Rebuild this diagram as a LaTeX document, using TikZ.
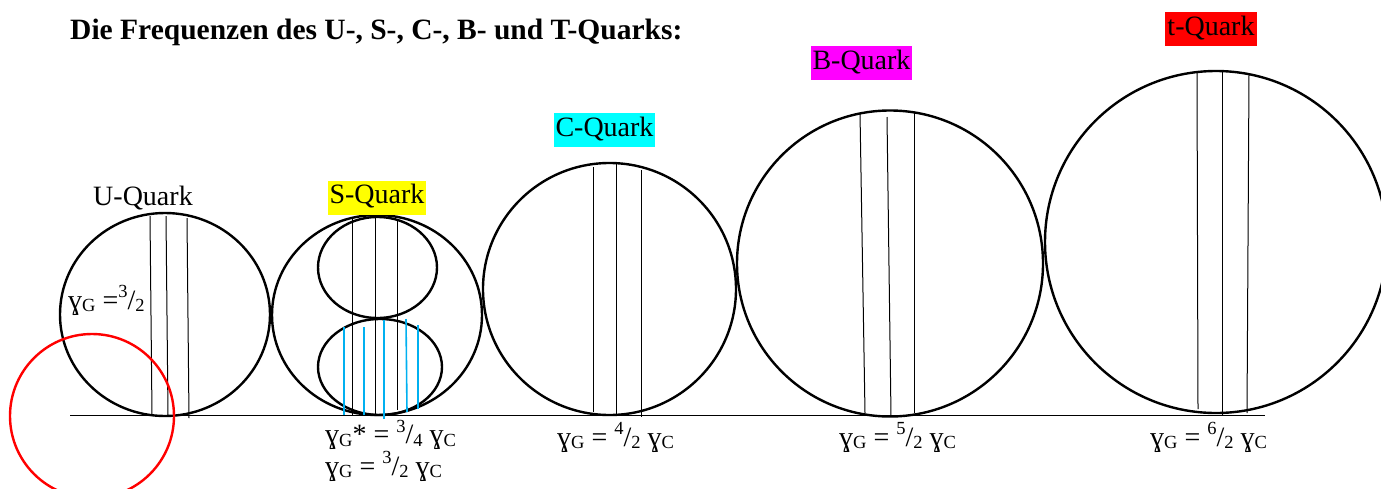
\documentclass[tikz,border=0pt]{standalone}
\usepackage{fontspec}
\setmainfont{Liberation Serif}
\newcommand\sbs[1]{\raisebox{-0.1em}{\fontsize{18.5}{18.5}\selectfont #1}}
\newcommand\sps[1]{\raisebox{0.42em}{\fontsize{18.5}{18.5}\selectfont #1}}
\newcommand\gmG{ɣ\sbs{G}}
\newcommand\gmC{ɣ\sbs{C}}
\tikzset{
  ring/.style={draw=black, line width=2.4pt},
  thin/.style={draw=black, line width=1pt},
  blueline/.style={draw=lineblue, line width=1.6pt},
  qlabel/.style={inner xsep=2pt, inner ysep=0pt, text height=21pt, text depth=9pt, minimum height=34pt, font=\fontsize{28}{30}\selectfont},
  formula/.style={inner sep=0pt, anchor=base west, font=\fontsize{28}{29}\selectfont},
}
\definecolor{lineblue}{RGB}{0,176,240}
\definecolor{qyellow}{RGB}{255,255,0}
\definecolor{qcyan}{RGB}{0,255,255}
\definecolor{qmagenta}{RGB}{255,0,255}
\definecolor{qred}{RGB}{255,0,0}
\begin{document}
\begin{tikzpicture}[x=1pt,y=-1pt]
\useasboundingbox (0,0) rectangle (1381,488);
\begin{scope}
\clip (0,0) rectangle (1381,488);
% title
\node[inner sep=0pt, anchor=base west, font=\fontsize{29.5}{31}\selectfont\bfseries] (title) at (70,39) {Die Frequenzen des U-, S-, C-, B- und T-Quarks:};
% baseline
\draw[line width=1.2pt] (70,415.5) coordinate (bl) -- (1265,415.5) coordinate (br);
% U-Quark
\draw[ring] (165,314.5) ellipse[x radius=105, y radius=101.5];
\draw[thin] (150,216) -- (152,415);
\draw[thin] (166,216) -- (168,415);
\draw[thin] (187,218) -- (189,418);
\node[qlabel] (ulab) at (143,199) {U-Quark};
\node[formula] (uf) at (68,309) {\gmG\ =\sps{3}/\sbs{2}};
\draw[qred, line width=2.4pt] (92,416) circle[radius=82];
% S-Quark
\draw[ring] (377,315) ellipse[x radius=105, y radius=100];
\draw[ring] (377.5,267.5) ellipse[x radius=59.5, y radius=50.5];
\draw[ring] (380,367) ellipse[x radius=62, y radius=48];
\draw[thin] (352,217) -- (352,415);
\draw[thin] (375,216) -- (375,415);
\draw[thin] (397,219) -- (397,410);
\draw[blueline] (344,327) -- (344,415);
\draw[blueline] (364,327) -- (364,415);
\draw[blueline] (384,320) -- (384,419);
\draw[blueline] (406,319) -- (407,412);
\draw[blueline] (418,325) -- (418,409);
\node[qlabel, fill=qyellow] (slab) at (377,197.5) {S-Quark};
\node[formula, align=left] (sf) at (325,475) {\gmG* = \sps{3}/\sbs{4} \gmC\\ \gmG\ = \sps{3}/\sbs{2} \gmC};
% C-Quark
\draw[ring] (609.5,289) ellipse[x radius=126.5, y radius=126];
\draw[thin] (593,167) -- (593,412);
\draw[thin] (616,163) -- (616,416);
\draw[thin] (641,170) -- (641,417);
\node[qlabel, fill=qcyan] (clab) at (604.5,130) {C-Quark};
\node[formula] (cf) at (557,446) {\gmG\ = \sps{4}/\sbs{2} \gmC};
% B-Quark
\draw[ring] (890,263.5) circle[radius=153];
\draw[thin] (860,113) -- (865,413);
\draw[thin] (887,117) -- (891,416);
\draw[thin] (914,112) -- (914,413);
\node[qlabel, fill=qmagenta] (blab) at (861.5,63) {B-Quark};
\node[formula] (bf) at (839,446) {\gmG\ = \sps{5}/\sbs{2} \gmC};
% t-Quark
\draw[ring] (1216,242) circle[radius=171];
\draw[thin] (1197,72) -- (1198,409);
\draw[thin] (1222,70) -- (1222,416);
\draw[thin] (1249,73) -- (1247,413);
\node[qlabel, fill=qred] (tlab) at (1211,29) {t-Quark};
\node[formula] (tf) at (1150,446) {\gmG\ = \sps{6}/\sbs{2} \gmC};
\end{scope}
\end{tikzpicture}
\end{document}
